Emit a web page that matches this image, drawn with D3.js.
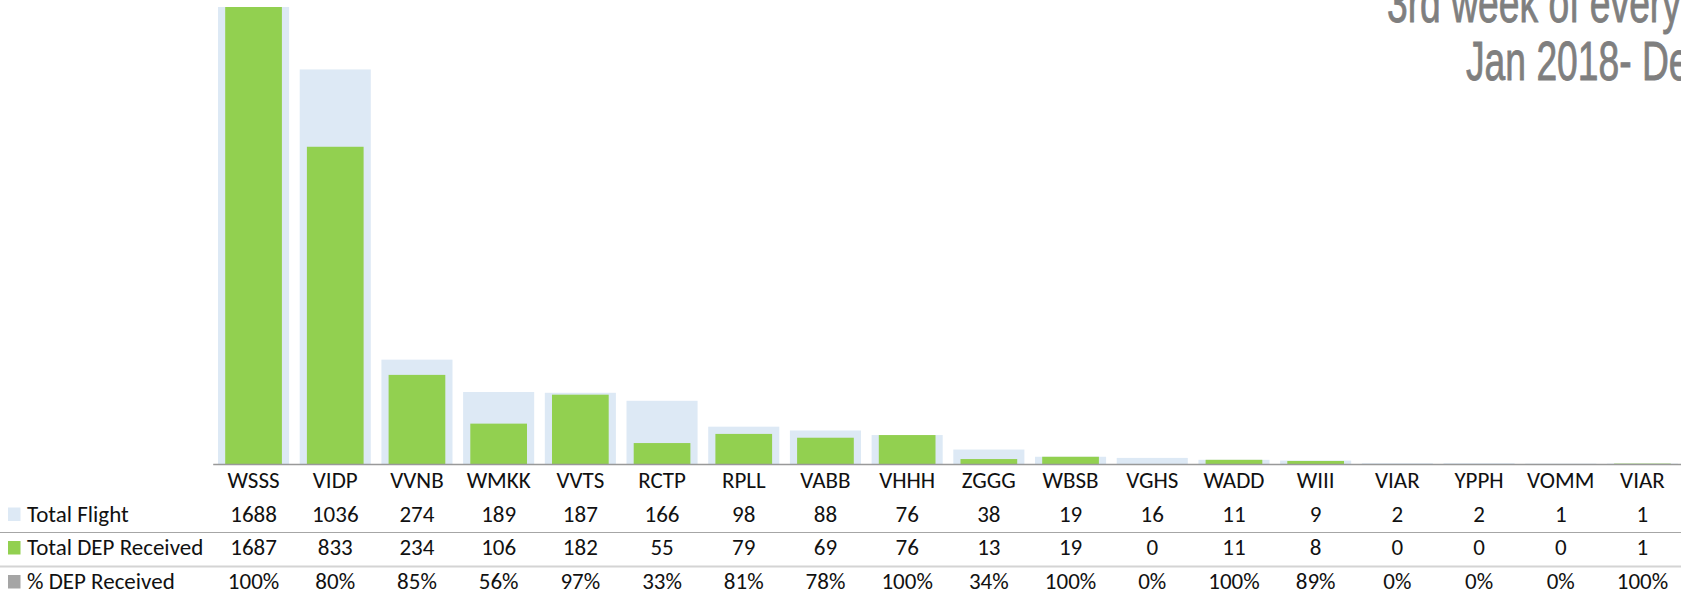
<!DOCTYPE html>
<html>
<head>
<meta charset="utf-8">
<script src="https://cdn.jsdelivr.net/npm/d3@7"></script>
<style>
  html, body { margin: 0; padding: 0; background: #fff; overflow: hidden; }
  svg { display: block; }
</style>
</head>
<body>
<script>
// airports (last VIAR repeats in source table)
var categories = ["WSSS","VIDP","VVNB","WMKK","VVTS","RCTP","RPLL","VABB","VHHH","ZGGG","WBSB","VGHS","WADD","WIII","VIAR","YPPH","VOMM","VIAR"];
var totalFlight = [1688,1036,274,189,187,166,98,88,76,38,19,16,11,9,2,2,1,1];
var depReceived = [1687,833,234,106,182,55,79,69,76,13,19,0,11,8,0,0,0,1];
var pctReceived = ["100%","80%","85%","56%","97%","33%","81%","78%","100%","34%","100%","0%","100%","89%","0%","0%","0%","100%"];
var rowLabels = ["Total Flight","Total DEP Received","% DEP Received"];
var titleLines = ["3rd week of every month","Jan 2018- Dec 2018"];

var width = 1681, height = 599;
var lightBlue = "#dde9f5", green = "#92d050", grey = "#a5a5a5";
var font = "Carlito, 'Open Sans', sans-serif";
var fsize = "23px";

var svg = d3.select("body").append("svg")
  .attr("width", width).attr("height", height);

var plotTop = 7, baseline = 464;
var x0 = 212.7, x1 = 1683.3;

var idx = d3.range(categories.length);

var x = d3.scaleBand().domain(idx).range([x0, x1])
  .paddingInner(0.13).paddingOuter(0.065);
var xIn = d3.scaleBand().domain(idx).range([x0, x1])
  .paddingInner(0.306).paddingOuter(0.153);

// axis max 1200, WSSS runs off the top
var y = d3.scaleLinear().domain([0, 1200]).range([baseline, plotTop]);

svg.append("clipPath").attr("id", "plotclip")
  .append("rect").attr("x", 0).attr("y", plotTop)
  .attr("width", width).attr("height", baseline - plotTop);

var plot = svg.append("g").attr("clip-path", "url(#plotclip)");

plot.selectAll("rect.total")
  .data(idx)
  .enter().append("rect")
  .attr("class", "total")
  .attr("x", d => x(d))
  .attr("width", x.bandwidth())
  .attr("y", d => y(totalFlight[d]))
  .attr("height", d => baseline - y(totalFlight[d]))
  .attr("fill", lightBlue);

plot.selectAll("rect.dep")
  .data(idx)
  .enter().append("rect")
  .attr("class", "dep")
  .attr("x", d => xIn(d))
  .attr("width", xIn.bandwidth())
  .attr("y", d => y(depReceived[d]))
  .attr("height", d => baseline - y(depReceived[d]))
  .attr("fill", green);

// category axis
var xAxis = d3.axisBottom(x).tickSize(0).tickFormat(d => categories[d]);
var ax = svg.append("g").attr("transform", "translate(0," + baseline + ")").call(xAxis);
ax.select(".domain").attr("stroke", "#999").attr("stroke-width", 1.3);
ax.selectAll("text")
  .attr("y", 24).attr("dy", 0)
  .attr("fill", "#111")
  .style("font-family", font).style("font-size", fsize);

// data table
var rowBase = [521.5, 555, 589];
var rows = [totalFlight, depReceived, pctReceived];
var swatch = [lightBlue, green, grey];

svg.append("line").attr("x1", 0).attr("x2", width).attr("y1", 532.5).attr("y2", 532.5)
  .attr("stroke", "#a6a6a6").attr("stroke-width", 1);
svg.append("line").attr("x1", 0).attr("x2", width).attr("y1", 566.5).attr("y2", 566.5)
  .attr("stroke", "#d4d4d4").attr("stroke-width", 2);

rows.forEach((vals, r) => {
  var g = svg.append("g");
  g.append("rect")
    .attr("x", 8).attr("y", rowBase[r] - 14)
    .attr("width", 12.5).attr("height", 13.5)
    .attr("fill", swatch[r]);
  g.append("text")
    .attr("x", 27).attr("y", rowBase[r])
    .attr("fill", "#111")
    .style("font-family", font).style("font-size", fsize)
    .text(rowLabels[r]);
  g.selectAll("text.val")
    .data(idx)
    .enter().append("text")
    .attr("class", "val")
    .attr("x", d => x(d) + x.bandwidth() / 2)
    .attr("y", rowBase[r])
    .attr("text-anchor", "middle")
    .attr("fill", "#111")
    .style("font-family", font).style("font-size", fsize)
    .text(d => vals[d]);
});

// title, cut off at top right like the source image
var titlePos = [[1387, 22], [1466, 80]];
titleLines.forEach((t, i) => {
  svg.append("text")
    .attr("transform", "translate(" + titlePos[i][0] + "," + titlePos[i][1] + ") scale(0.665,1)")
    .attr("fill", "#7f7f7f")
    .attr("stroke", "#7f7f7f").attr("stroke-width", 0.9)
    .style("font-family", "'Liberation Sans', Arial, sans-serif")
    .style("font-size", "56px")
    .text(t);
});
</script>
</body>
</html>
